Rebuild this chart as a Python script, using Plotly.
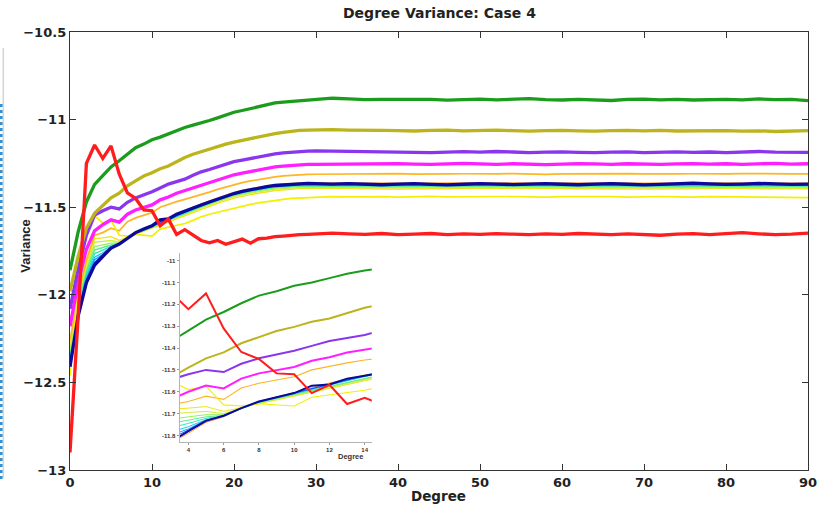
import plotly.graph_objects as go

# Degree axis: every degree up to 30, then every second degree
DEG = list(range(0, 31)) + list(range(32, 91, 2))

GREEN = [-11.86, -11.64, -11.47, -11.37, -11.32, -11.27, -11.235, -11.195, -11.16, -11.14,
         -11.115, -11.10, -11.08, -11.06, -11.045, -11.032, -11.02, -11.005, -10.99, -10.972,
         -10.958, -10.948, -10.937, -10.925, -10.912, -10.905, -10.90, -10.896, -10.892, -10.888,
         -10.884,
         -10.878, -10.882, -10.886, -10.885, -10.884, -10.887, -10.884, -10.889, -10.886, -10.883,
         -10.887, -10.884, -10.880, -10.886, -10.888, -10.884, -10.887, -10.891, -10.885, -10.883,
         -10.887, -10.884, -10.888, -10.886, -10.884, -10.887, -10.882, -10.886, -10.884, -10.892]

OLIVE = [-11.98, -11.78, -11.62, -11.535, -11.49, -11.447, -11.42, -11.378, -11.35, -11.322,
         -11.303, -11.28, -11.265, -11.24, -11.216, -11.198, -11.183, -11.168, -11.154, -11.14,
         -11.128, -11.118, -11.108, -11.098, -11.088, -11.08, -11.073, -11.067, -11.062, -11.06,
         -11.058,
         -11.057, -11.06, -11.063, -11.062, -11.063, -11.065, -11.062, -11.06, -11.064, -11.062,
         -11.06, -11.063, -11.066, -11.063, -11.061, -11.064, -11.066, -11.063, -11.061, -11.064,
         -11.062, -11.065, -11.063, -11.061, -11.063, -11.066, -11.064, -11.068, -11.064, -11.063]

PURPLE = [-12.08, -11.85, -11.66, -11.545, -11.52, -11.50, -11.51, -11.472, -11.447, -11.43,
          -11.412, -11.39, -11.368, -11.354, -11.34, -11.318, -11.298, -11.285, -11.27, -11.255,
          -11.24, -11.231, -11.222, -11.212, -11.203, -11.196, -11.19, -11.186, -11.182, -11.18,
          -11.179,
          -11.18, -11.183, -11.186, -11.184, -11.187, -11.185, -11.188, -11.186, -11.183, -11.186,
          -11.182, -11.185, -11.188, -11.186, -11.184, -11.187, -11.189, -11.186, -11.184, -11.188,
          -11.186, -11.184, -11.187, -11.185, -11.188, -11.185, -11.182, -11.186, -11.188, -11.187]

MAGENTA = [-12.18, -11.93, -11.74, -11.635, -11.60, -11.572, -11.585, -11.54, -11.516, -11.50,
           -11.487, -11.458, -11.442, -11.42, -11.405, -11.388, -11.372, -11.358, -11.343, -11.328,
           -11.315, -11.305, -11.296, -11.286, -11.278, -11.27, -11.265, -11.261, -11.258, -11.256,
           -11.255,
           -11.254, -11.252, -11.255, -11.253, -11.251, -11.254, -11.256, -11.253, -11.25, -11.253,
           -11.255, -11.252, -11.254, -11.257, -11.254, -11.251, -11.253, -11.255, -11.252, -11.254,
           -11.256, -11.253, -11.251, -11.254, -11.252, -11.255, -11.253, -11.25, -11.254, -11.252]

ORANGE = [-12.26, -12.0, -11.80, -11.66, -11.645, -11.62, -11.635, -11.583, -11.561, -11.545,
          -11.531, -11.50, -11.483, -11.468, -11.455, -11.442, -11.43, -11.414, -11.398, -11.384,
          -11.372, -11.36, -11.35, -11.341, -11.334, -11.327, -11.321, -11.317, -11.315, -11.313,
          -11.312,
          -11.311, -11.309, -11.311, -11.31, -11.308, -11.311, -11.312, -11.31, -11.309, -11.311,
          -11.31, -11.308, -11.311, -11.313, -11.31, -11.309, -11.311, -11.31, -11.308, -11.31,
          -11.312, -11.31, -11.309, -11.311, -11.31, -11.308, -11.31, -11.312, -11.31, -11.31]

NAVY = [-12.41, -12.12, -11.93, -11.83, -11.78, -11.733, -11.71, -11.675, -11.645, -11.625,
        -11.606, -11.572, -11.567, -11.54, -11.524, -11.505, -11.487, -11.47, -11.453, -11.437,
        -11.422, -11.41, -11.40, -11.39, -11.382, -11.376, -11.372, -11.368, -11.365, -11.364,
        -11.366,
        -11.368, -11.365, -11.369, -11.372, -11.368, -11.366, -11.37, -11.373, -11.369, -11.366,
        -11.368, -11.371, -11.368, -11.365, -11.369, -11.372, -11.368, -11.366, -11.369, -11.373,
        -11.37, -11.366, -11.363, -11.367, -11.37, -11.368, -11.364, -11.367, -11.37, -11.368]

YELLOW = [-12.46, -11.95, -11.66, -11.55, -11.59, -11.575, -11.66, -11.665, -11.655, -11.66,
          -11.665, -11.625, -11.615, -11.605, -11.593, -11.575, -11.555, -11.54, -11.528, -11.516,
          -11.505, -11.494, -11.484, -11.475, -11.467, -11.46, -11.455, -11.45, -11.448, -11.446,
          -11.443,
          -11.44, -11.441, -11.439, -11.44, -11.442, -11.44, -11.438, -11.441, -11.44, -11.442,
          -11.44, -11.439, -11.441, -11.443, -11.44, -11.439, -11.441, -11.44, -11.442, -11.44,
          -11.439, -11.441, -11.443, -11.44, -11.441, -11.439, -11.442, -11.44, -11.443, -11.445]

RED = [-12.90, -12.12, -11.25, -11.145, -11.222, -11.15, -11.31, -11.418, -11.45, -11.516,
       -11.52, -11.606, -11.568, -11.656, -11.628, -11.66, -11.69, -11.703, -11.69, -11.712,
       -11.695, -11.682, -11.705, -11.68, -11.676, -11.668, -11.665, -11.66, -11.657, -11.655,
       -11.652,
       -11.648, -11.652, -11.655, -11.65, -11.657, -11.654, -11.65, -11.656, -11.652, -11.655,
       -11.651, -11.654, -11.657, -11.652, -11.655, -11.65, -11.654, -11.657, -11.652, -11.655,
       -11.66, -11.654, -11.651, -11.656, -11.652, -11.645, -11.652, -11.657, -11.654, -11.648]

# Thin family of curves that fan out at low degree and merge near the navy curve
FAN_DEG = [0, 1, 2, 3, 4, 5, 6, 7, 8, 10, 12, 14, 16, 18, 20, 22, 25, 28, 32, 40, 50, 60, 70, 80, 90]

FAN_YELLOW = [-12.30, -12.02, -11.82, -11.68, -11.675, -11.668, -11.69, -11.672, -11.655,
              -11.62, -11.585, -11.55, -11.51, -11.478, -11.448, -11.428, -11.405, -11.394,
              -11.394, -11.396, -11.393, -11.395, -11.396, -11.394, -11.395]
FAN_LIME = [-12.32, -12.04, -11.84, -11.70, -11.695, -11.69, -11.70, -11.677, -11.652,
            -11.617, -11.579, -11.542, -11.503, -11.47, -11.44, -11.42, -11.397, -11.388,
            -11.388, -11.389, -11.387, -11.389, -11.39, -11.388, -11.389]
FAN_LIGHTGREEN = [-12.34, -12.06, -11.86, -11.725, -11.715, -11.705, -11.705, -11.677, -11.65,
                  -11.614, -11.575, -11.537, -11.498, -11.465, -11.434, -11.414, -11.391, -11.382,
                  -11.383, -11.384, -11.382, -11.384, -11.384, -11.383, -11.384]
FAN_GREEN = [-12.355, -12.07, -11.87, -11.745, -11.73, -11.715, -11.708, -11.677, -11.649,
             -11.612, -11.572, -11.534, -11.495, -11.461, -11.43, -11.41, -11.387, -11.378,
             -11.379, -11.38, -11.378, -11.38, -11.38, -11.379, -11.38]
FAN_AQUA = [-12.37, -12.08, -11.885, -11.765, -11.745, -11.722, -11.71, -11.676, -11.648,
            -11.61, -11.57, -11.531, -11.492, -11.458, -11.427, -11.407, -11.384, -11.375,
            -11.376, -11.377, -11.375, -11.377, -11.377, -11.376, -11.377]
FAN_CYAN = [-12.38, -12.09, -11.90, -11.785, -11.76, -11.728, -11.711, -11.676, -11.647,
            -11.609, -11.568, -11.529, -11.49, -11.456, -11.424, -11.405, -11.381, -11.372,
            -11.374, -11.374, -11.373, -11.375, -11.374, -11.373, -11.374]
FAN_SKY = [-12.39, -12.10, -11.91, -11.80, -11.77, -11.73, -11.711, -11.676, -11.646,
           -11.608, -11.567, -11.527, -11.488, -11.454, -11.422, -11.403, -11.379, -11.37,
           -11.372, -11.372, -11.371, -11.373, -11.372, -11.371, -11.372]
FAN_BLUE = [-12.40, -12.11, -11.92, -11.815, -11.775, -11.73, -11.71, -11.675, -11.645,
            -11.607, -11.566, -11.526, -11.487, -11.453, -11.421, -11.401, -11.377, -11.368,
            -11.37, -11.37, -11.369, -11.371, -11.37, -11.369, -11.37]
FAN_ORANGE = [-12.42, -12.13, -11.94, -11.835, -11.79, -11.74, -11.715, -11.677, -11.644,
              -11.604, -11.56, -11.52, -11.481, -11.447, -11.415, -11.395, -11.371, -11.362,
              -11.363, -11.363, -11.362, -11.364, -11.363, -11.362, -11.363]

Y_TICKS = [-13, -12.5, -12, -11.5, -11, -10.5]
Y_TICK_TEXT = ["\u221213", "\u221212.5", "\u221212", "\u221211.5", "\u221211", "\u221210.5"]
X_TICKS = [0, 10, 20, 30, 40, 50, 60, 70, 80, 90]

INSET_Y_TICKS = [-11.8, -11.7, -11.6, -11.5, -11.4, -11.3, -11.2, -11.1, -11.0]
INSET_Y_TEXT = ["-11.8", "-11.7", "-11.6", "-11.5", "-11.4", "-11.3", "-11.2", "-11.1", "-11"]
INSET_X_TICKS = [4, 6, 8, 10, 12, 14]

# (x, y, colour, main width, inset width) in drawing order
SERIES = [
    (FAN_DEG, FAN_ORANGE, "#ff9a3c", 1.4, 1.0),
    (FAN_DEG, FAN_YELLOW, "#f4e21a", 1.4, 1.0),
    (FAN_DEG, FAN_LIME, "#cdf03a", 1.4, 1.0),
    (FAN_DEG, FAN_LIGHTGREEN, "#98f060", 1.4, 1.0),
    (FAN_DEG, FAN_GREEN, "#5eec8c", 1.4, 1.0),
    (FAN_DEG, FAN_AQUA, "#32e6bc", 1.4, 1.0),
    (FAN_DEG, FAN_CYAN, "#14ccf0", 1.4, 1.0),
    (FAN_DEG, FAN_SKY, "#1e9cff", 1.4, 1.0),
    (FAN_DEG, FAN_BLUE, "#1e50f0", 1.4, 1.0),
    (DEG, ORANGE, "#ffb424", 1.7, 1.1),
    (DEG, YELLOW, "#f2f000", 1.7, 1.1),
    (DEG, NAVY, "#0a0a9e", 3.3, 2.0),
    (DEG, MAGENTA, "#ff1eff", 3.3, 2.0),
    (DEG, PURPLE, "#8a36ee", 3.3, 2.0),
    (DEG, OLIVE, "#bcb41c", 3.3, 2.0),
    (DEG, GREEN, "#1c9c1c", 3.3, 2.0),
    (DEG, RED, "#ff1c1c", 3.3, 2.0),
]

W, H = 829, 507
PL, PR, PT, PB = 70, 811, 32, 470


def fx(px):
    return (px - PL) / (PR - PL)


def fy(py):
    return (PB - py) / (PB - PT)


fig = go.Figure()
for xs, ys, col, wmain, winset in SERIES:
    fig.add_trace(go.Scatter(x=xs, y=ys, mode="lines", line=dict(color=col, width=wmain),
                             showlegend=False, hoverinfo="skip"))
for xs, ys, col, wmain, winset in SERIES:
    fig.add_trace(go.Scatter(x=xs, y=ys, mode="lines", line=dict(color=col, width=winset),
                             xaxis="x2", yaxis="y2", showlegend=False, hoverinfo="skip"))

tick_font = dict(family="DejaVu Sans", size=13, color="#222", weight="bold")
inset_font = dict(family="Liberation Sans", size=6, color="#333", weight="bold")

fig.update_layout(
    width=W, height=H,
    margin=dict(l=PL, r=W - PR, t=PT, b=H - PB),
    paper_bgcolor="white", plot_bgcolor="white",
    xaxis=dict(range=[0, 90], tickvals=X_TICKS, ticks="inside", ticklen=6, tickwidth=1.2,
               tickcolor="#333", showline=True, linecolor="#333", linewidth=1.4,
               mirror="ticks", showgrid=False, zeroline=False, tickfont=tick_font),
    yaxis=dict(range=[-13, -10.5], tickvals=Y_TICKS, ticktext=Y_TICK_TEXT, ticks="inside",
               ticklen=6, tickwidth=1.2, tickcolor="#333", showline=True, linecolor="#333",
               linewidth=1.4, mirror="ticks", showgrid=False, zeroline=False,
               tickfont=tick_font),
    xaxis2=dict(domain=[fx(180), fx(373)], anchor="y2", range=[3.5, 14.4],
                tickvals=INSET_X_TICKS, ticks="outside", ticklen=2, tickcolor="#999",
                showline=True, linecolor="#b4b4b4", linewidth=1, showgrid=False,
                zeroline=False, tickfont=inset_font),
    yaxis2=dict(domain=[fy(442), fy(253)], anchor="x2", range=[-11.83, -10.965],
                tickvals=INSET_Y_TICKS, ticktext=INSET_Y_TEXT, ticks="outside", ticklen=2,
                tickcolor="#999", showline=True, linecolor="#b4b4b4", linewidth=1,
                showgrid=False, zeroline=False, tickfont=inset_font),
    annotations=[
        dict(text="Degree Variance: Case 4", x=fx(441.5), y=fy(13), xref="paper", yref="paper",
             showarrow=False, xanchor="center", yanchor="middle",
             font=dict(family="DejaVu Sans", size=14, color="#222", weight="bold")),
        dict(text="Degree", x=fx(440), y=fy(506), xref="paper", yref="paper",
             showarrow=False, xanchor="center", yanchor="bottom",
             font=dict(family="DejaVu Sans", size=13.5, color="#222", weight="bold")),
        dict(text="Variance", x=fx(25), y=fy(245.5), xref="paper", yref="paper",
             showarrow=False, xanchor="center", yanchor="middle", textangle=-90,
             font=dict(family="Liberation Sans", size=13, color="#222", weight="bold")),
        dict(text="Degree", x=fx(352), y=fy(456.5), xref="paper", yref="paper",
             showarrow=False, xanchor="center", yanchor="middle",
             font=dict(family="Liberation Sans", size=7.5, color="#333", weight="bold")),
    ],
    shapes=[
        dict(type="line", xref="paper", yref="paper", x0=fx(3), x1=fx(3), y0=fy(48), y1=fy(478),
             line=dict(color="#d4d4d4", width=1.5)),
        dict(type="line", xref="paper", yref="paper", x0=fx(1), x1=fx(1), y0=fy(104), y1=fy(480),
             line=dict(color="#2a8fd8", width=2.5, dash="dot")),
    ],
)

fig.write_html("out.html")
